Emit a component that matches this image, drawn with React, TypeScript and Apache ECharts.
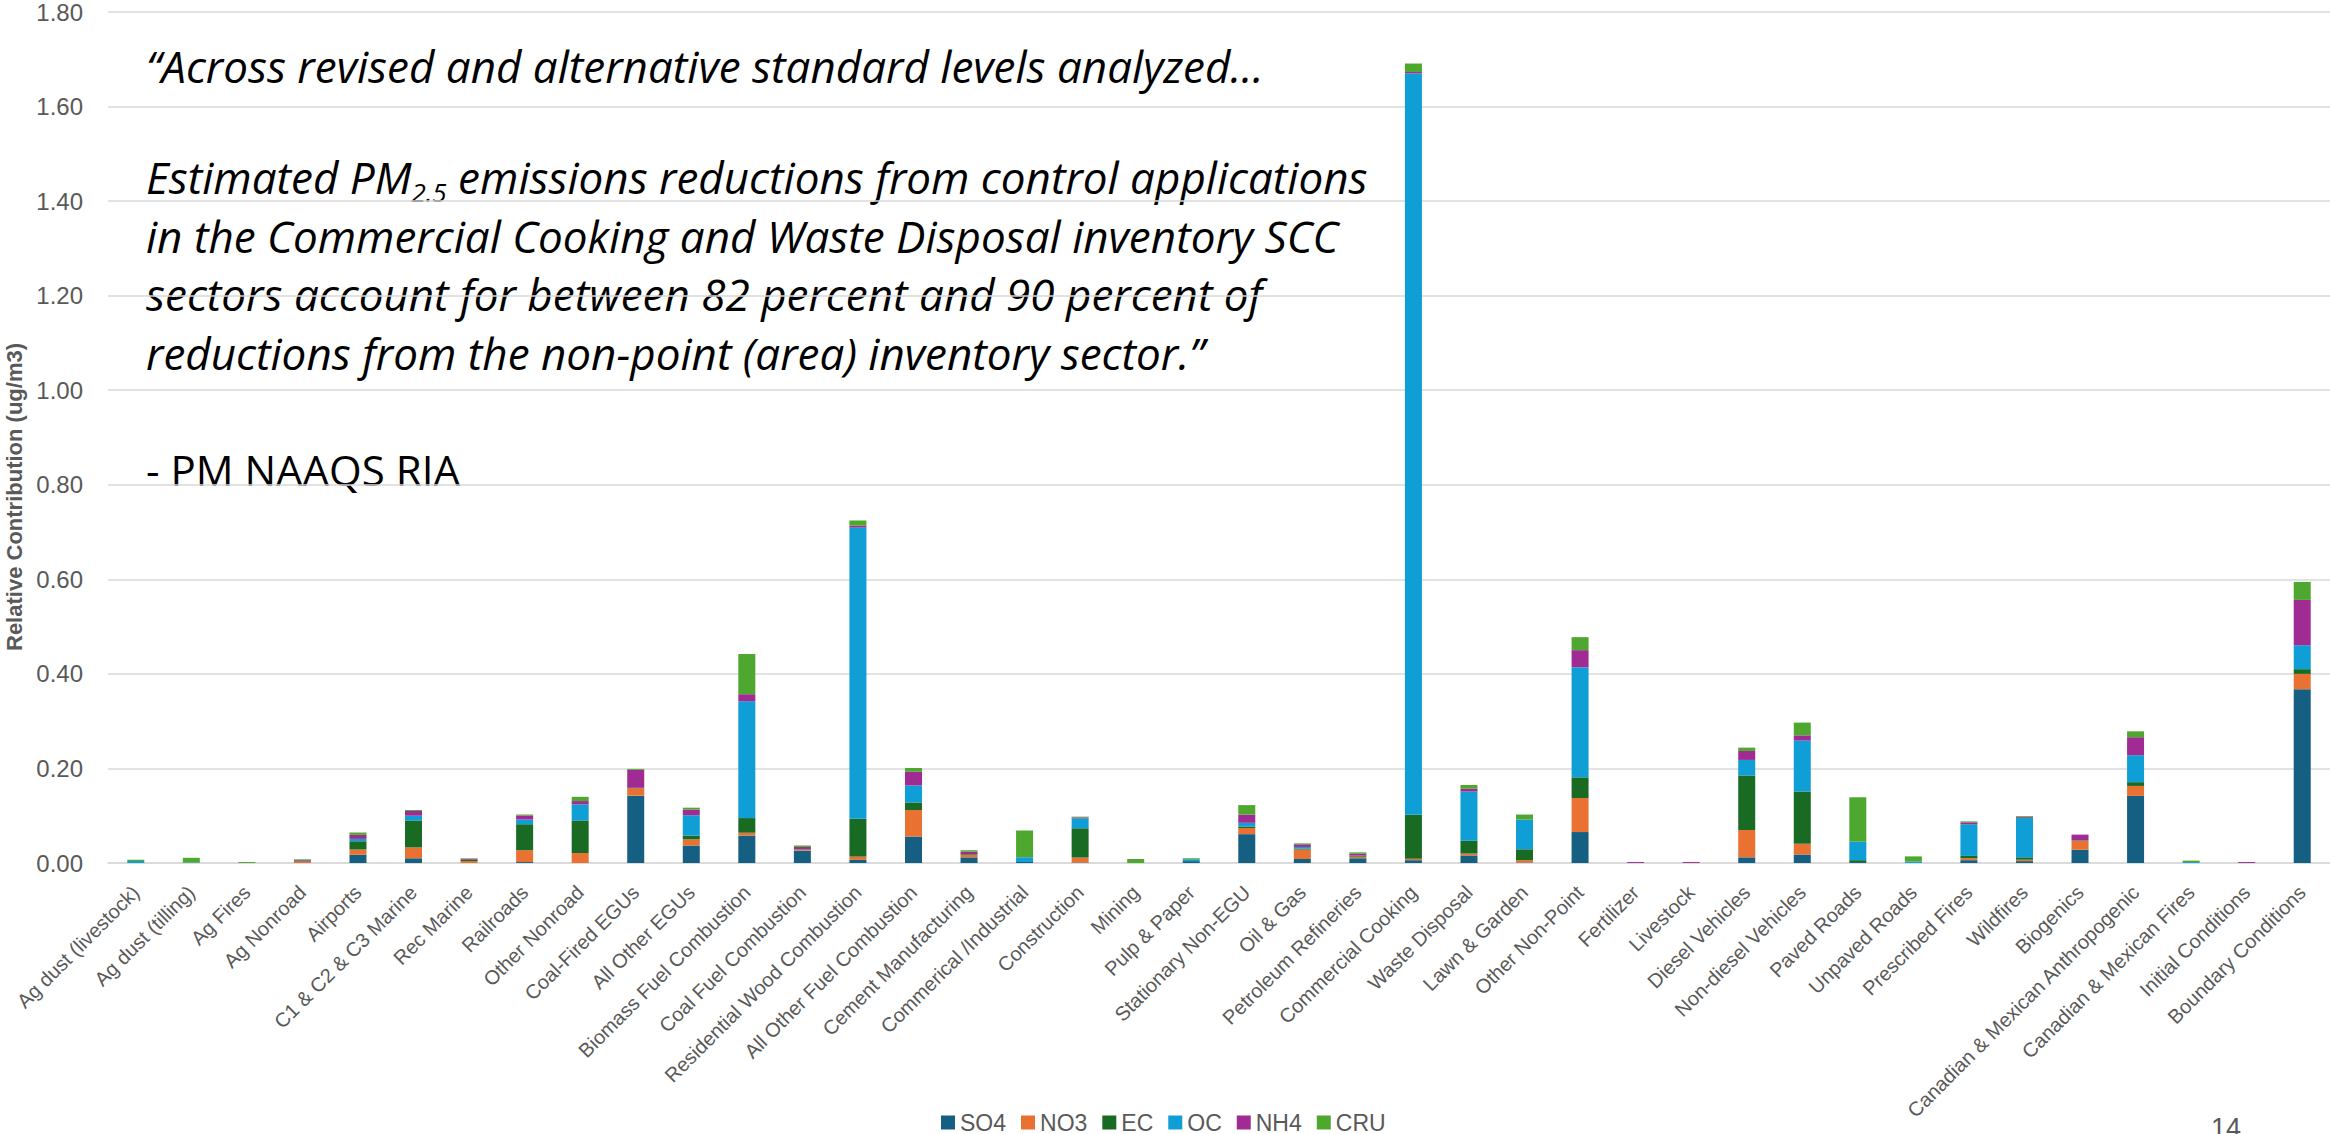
import React, { useEffect, useRef } from "react";
import * as echarts from "echarts";

const categories = [
  "Ag dust (livestock)", "Ag dust (tilling)", "Ag Fires", "Ag Nonroad", "Airports",
  "C1 & C2 & C3 Marine", "Rec Marine", "Railroads", "Other Nonroad", "Coal-Fired EGUs",
  "All Other EGUs", "Biomass Fuel Combustion", "Coal Fuel Combustion", "Residential Wood Combustion",
  "All Other Fuel Combustion", "Cement Manufacturing", "Commerical /Industrial", "Construction",
  "Mining", "Pulp & Paper", "Stationary Non-EGU", "Oil & Gas", "Petroleum Refineries",
  "Commercial Cooking", "Waste Disposal", "Lawn & Garden", "Other Non-Point", "Fertilizer",
  "Livestock", "Diesel Vehicles", "Non-diesel Vehicles", "Paved Roads", "Unpaved Roads",
  "Prescribed Fires", "Wildfires", "Biogenics", "Canadian & Mexican Anthropogenic",
  "Canadian & Mexican Fires", "Initial Conditions", "Boundary Conditions",
];

const SO4 = [0, 0, 0, 0, 0.0175, 0.01, 0, 0.002, 0, 0.1425, 0.037, 0.058, 0.026, 0.0065, 0.056, 0.012, 0.002, 0.001, 0, 0.004, 0.061, 0.0085, 0.01, 0.006, 0.016, 0.001, 0.0655, 0, 0, 0.012, 0.018, 0.002, 0, 0.006, 0.004, 0.028, 0.142, 0, 0, 0.3676];
const NO3 = [0, 0, 0, 0.003, 0.011, 0.023, 0.004, 0.025, 0.021, 0.0155, 0.013, 0.006, 0.002, 0.007, 0.056, 0.0055, 0, 0.0105, 0, 0, 0.013, 0.02, 0.003, 0.003, 0.004, 0.005, 0.072, 0, 0, 0.058, 0.0225, 0, 0, 0.004, 0.003, 0.019, 0.021, 0, 0, 0.0324];
const EC = [0, 0, 0, 0.002, 0.0175, 0.057, 0.003, 0.055, 0.069, 0.001, 0.008, 0.031, 0.001, 0.08, 0.016, 0.0015, 0, 0.062, 0, 0, 0.003, 0.002, 0.0015, 0.093, 0.027, 0.023, 0.0437, 0, 0, 0.115, 0.1105, 0.004, 0, 0.005, 0.005, 0.001, 0.008, 0, 0, 0.01];
const OC = [0.004, 0.001, 0, 0, 0.005, 0.01, 0, 0.01, 0.034, 0, 0.043, 0.247, 0, 0.616, 0.036, 0, 0.01, 0.021, 0, 0.004, 0.008, 0.0035, 0.001, 1.568, 0.104, 0.063, 0.233, 0, 0, 0.033, 0.108, 0.039, 0.003, 0.067, 0.083, 0, 0.057, 0.002, 0, 0.0507];
const NH4 = [0, 0, 0, 0.002, 0.0085, 0.01, 0.002, 0.0085, 0.007, 0.038, 0.012, 0.015, 0.005, 0.004, 0.029, 0.005, 0, 0.002, 0, 0, 0.0175, 0.0055, 0.004, 0.003, 0.006, 0, 0.036, 0.002, 0.002, 0.019, 0.011, 0, 0, 0.004, 0.002, 0.012, 0.038, 0, 0.002, 0.0958];
const CRU = [0.003, 0.01, 0.002, 0.001, 0.005, 0.002, 0.001, 0.002, 0.009, 0.002, 0.004, 0.085, 0.003, 0.011, 0.008, 0.003, 0.057, 0.0015, 0.0085, 0.002, 0.02, 0.002, 0.003, 0.018, 0.008, 0.0105, 0.0275, 0, 0, 0.007, 0.027, 0.094, 0.011, 0.002, 0.002, 0, 0.0125, 0.003, 0, 0.038];

const seriesNames = ["SO4", "NO3", "EC", "OC", "NH4", "CRU"];
const seriesValues = [SO4, NO3, EC, OC, NH4, CRU];
const seriesColors = ["#156082", "#E97132", "#196B24", "#0F9ED5", "#A02B93", "#4EA72E"];

const quoteLines = [
  "\u201CAcross revised and alternative standard levels analyzed\u2026",
  "",
  "in the Commercial Cooking and Waste Disposal inventory SCC",
  "sectors account for between 82 percent and 90 percent of",
  "reductions from the non-point (area) inventory sector.\u201D",
];

const AXIS_FONT = "'Liberation Sans', Arial, sans-serif";
const QUOTE_FONT = "'Open Sans', Lato, sans-serif";

export default function App() {
  const ref = useRef<HTMLDivElement>(null);
  useEffect(() => {
    const chart = echarts.init(ref.current!, null, { renderer: "svg" });
    const qSize = 44;
    const qLH = 56;
    const lineTops = [38, 149, 207.5, 266, 324.5];
    const textEls: any[] = [];
    quoteLines.forEach((t, i) => {
      if (i === 1) return;
      textEls.push({
        type: "text",
        x: 146,
        y: lineTops[i],
        style: {
          text: t,
          fontSize: qSize,
          fontFamily: QUOTE_FONT,
          fontStyle: "italic",
          lineHeight: qLH,
          fill: "#000",
          align: "left",
          verticalAlign: "top",
          textAlign: "left",
          textVerticalAlign: "top",
        },
      });
    });
    textEls.push({
      type: "text",
      x: 146,
      y: lineTops[1],
      style: {
        text: "{a|Estimated PM}{s|2.5}{a| emissions reductions from control applications}",
        rich: {
          a: { fontSize: qSize, fontFamily: QUOTE_FONT, fontStyle: "italic", lineHeight: qLH, fill: "#000", color: "#000" },
          s: { fontSize: 26, fontFamily: QUOTE_FONT, fontStyle: "italic", lineHeight: 12, verticalAlign: "bottom", fill: "#000", color: "#000" },
        },
        align: "left",
        verticalAlign: "top",
        textAlign: "left",
        textVerticalAlign: "top",
      },
    });
    textEls.push({
      type: "text",
      x: 146,
      y: 441,
      style: {
        text: "- PM NAAQS RIA",
        fontSize: 42,
        fontFamily: QUOTE_FONT,
        lineHeight: qLH,
        fill: "#000",
        align: "left",
        verticalAlign: "top",
        textAlign: "left",
        textVerticalAlign: "top",
      },
    });
    textEls.push({
      type: "text",
      x: 14,
      y: 497,
      rotation: Math.PI / 2,
      style: {
        text: "Relative Contribution (ug/m3)",
        fontSize: 22,
        fontWeight: "bold",
        fontFamily: AXIS_FONT,
        fill: "#595959",
        align: "center",
        verticalAlign: "middle",
        textAlign: "center",
        textVerticalAlign: "middle",
      },
    });
    textEls.push({
      type: "text",
      x: 2211,
      y: 1114,
      style: {
        text: "14",
        fontSize: 27,
        fontFamily: AXIS_FONT,
        fill: "#595959",
        align: "left",
        verticalAlign: "top",
        textAlign: "left",
        textVerticalAlign: "top",
      },
    });

    chart.setOption({
      animation: false,
      backgroundColor: "#ffffff",
      grid: { left: 108, top: 12, width: 2224, height: 851, containLabel: false },
      legend: {
        data: seriesNames,
        left: 936,
        top: 1106,
        icon: "rect",
        itemWidth: 14,
        itemHeight: 14,
        itemGap: 15,
        textStyle: { fontSize: 23, color: "#595959", fontFamily: AXIS_FONT },
      },
      xAxis: {
        type: "category",
        data: categories,
        axisLine: { lineStyle: { color: "#d9d9d9", width: 1.5 } },
        axisTick: { show: false },
        axisLabel: {
          interval: 0,
          rotate: 45,
          fontSize: 20,
          color: "#595959",
          fontFamily: AXIS_FONT,
          margin: 26,
        },
      },
      yAxis: {
        type: "value",
        min: 0,
        max: 1.8,
        interval: 0.2,
        axisLine: { show: false },
        axisTick: { show: false },
        axisLabel: {
          formatter: (v: number) => v.toFixed(2),
          fontSize: 24,
          color: "#595959",
          fontFamily: AXIS_FONT,
          margin: 25,
        },
        splitLine: { lineStyle: { color: "#d9d9d9", width: 1.5 } },
      },
      series: seriesNames.map((name, i) => ({
        name,
        type: "bar",
        stack: "total",
        barWidth: 17,
        itemStyle: { color: seriesColors[i] },
        data: seriesValues[i],
      })),
      graphic: textEls,
    });
    return () => chart.dispose();
  }, []);
  return (
    <div
      ref={ref}
      style={{ position: "fixed", left: 0, top: 0, width: 2330, height: 1134, background: "#fff" }}
    />
  );
}
